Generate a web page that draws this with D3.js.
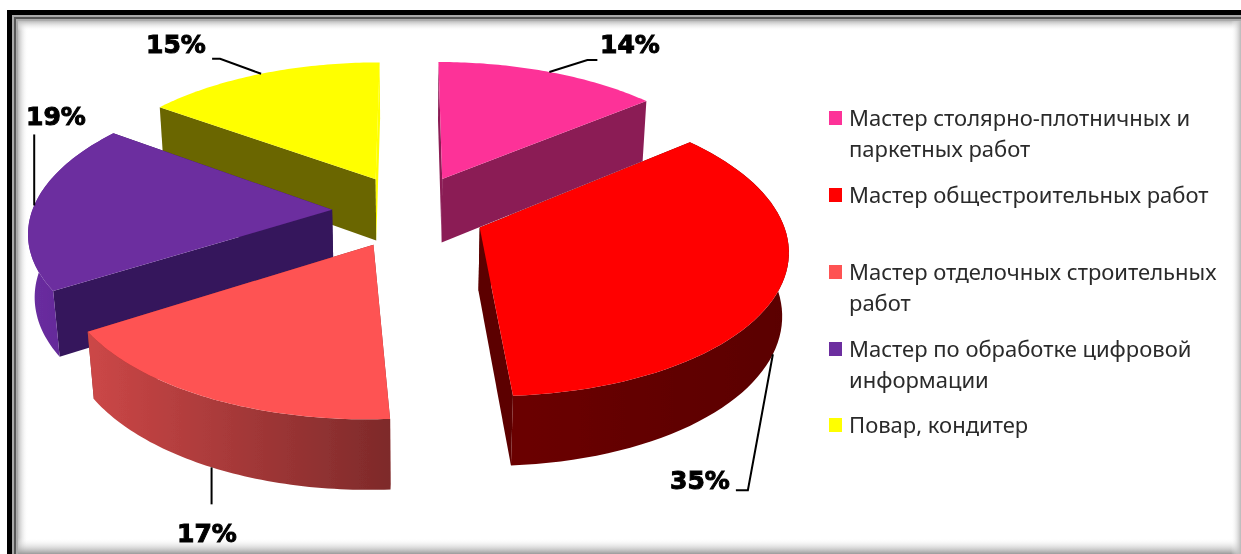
<!DOCTYPE html>
<html>
<head>
<meta charset="utf-8">
<script src="https://cdn.jsdelivr.net/npm/d3@7"></script>
<style>
  html, body { margin: 0; padding: 0; background: #fff; }
  svg { display: block; }
</style>
</head>
<body>
<svg id="chart" width="1241" height="554"></svg>
<script>
// data
const categories = [
    ["Мастер столярно-плотничных и", "паркетных работ"],
    ["Мастер общестроительных работ"],
    ["Мастер отделочных строительных", "работ"],
    ["Мастер по обработке цифровой", "информации"],
    ["Повар, кондитер"]
];
const shares = [14, 35, 17, 19, 15];

// colours, same order as the categories
const topColors = ["#fd3398", "#ff0000", "#fe5252", "#6c2d9f", "#ffff00"];
const wallColors = ["#8b1c55", "#5c0000", "#8a2e2e", "#35175c", "#6b6600"];
const wallEndColors = ["#8b1c55", "#5c0000", "#8a2e2e", "#35175c", "#ffff00"];
const rimLeft = ["#8b1c55", "#6b0000", "#cc4747", "#6a2da0", "#6b6600"];
const rimRight = ["#8b1c55", "#5a0000", "#7e2a2a", "#5b2890", "#6b6600"];

// camera for the tilted pie
const cx = 410, cy = 211, focal = 300, tilt = 28 * Math.PI / 180, dist = 6.5;
const thick = [0.25, 0.24, 0.24, 0.24, 0.24], explode = 0.26;
const nudge = [[0, 0], [-0.01, 0.012], [0, 0], [0, 0], [0, 0]];   // red sits a bit lower in the picture

function project(X, Y, Z) {
    const yv = Y * Math.sin(tilt) - Z * Math.cos(tilt);
    const d = Y * Math.cos(tilt) + Z * Math.sin(tilt);
    const w = dist / (dist - d);
    return [cx + focal * X * w, cy + focal * yv * w];
}

// angle is clockwise from the top, as in d3.pie
function rimPoint(a, off, z) {
    return project(Math.sin(a) + off[0], -Math.cos(a) + off[1], z);
}

const root = d3.select("#chart");
const line = d3.line();
const defs = root.append("defs");
defs.append("filter").attr("id", "soft").attr("x", 0).attr("y", 0).attr("width", 1).attr("height", 1)
    .attr("filterUnits", "objectBoundingBox")
    .append("feGaussianBlur").attr("stdDeviation", 0.5);
root.append("rect").attr("width", 1241).attr("height", 554).attr("fill", "#fff");
const svg = root.append("g").attr("filter", "url(#soft)");
svg.append("rect").attr("width", 1241).attr("height", 554).attr("fill", "#fff");

const slices = d3.pie().sort(null)(shares);
slices.forEach((s, i) => {
    const mid = (s.startAngle + s.endAngle) / 2;
    s.off = [explode * Math.sin(mid) + nudge[i][0], -explode * Math.cos(mid) + nudge[i][1]];
    s.mid = mid;
});

function rimArc(s, z) {
    return d3.range(0, 61).map(i => rimPoint(s.startAngle + (s.endAngle - s.startAngle) * i / 60, s.off, z));
}

// frame: stripes on the left and top, soft shadow on all sides
function fade(id, x1, y1, x2, y2, color) {
    const g = defs.append("linearGradient").attr("id", id).attr("gradientUnits", "userSpaceOnUse")
        .attr("x1", x1).attr("y1", y1).attr("x2", x2).attr("y2", y2);
    g.append("stop").attr("offset", 0).attr("stop-color", color);
    g.append("stop").attr("offset", 1).attr("stop-color", "#fff").attr("stop-opacity", 0);
}
fade("fadeL", 18, 0, 28, 0, "#bbb");
fade("fadeT", 0, 21, 0, 31, "#bbb");
fade("fadeB", 0, 554, 0, 538, "#9a9a9a");
fade("fadeR", 1241, 0, 1231, 0, "#b8b8b8");
const frame = svg.append("g");
frame.append("rect").attr("x", 18).attr("y", 21).attr("width", 10).attr("height", 533).attr("fill", "url(#fadeL)");
frame.append("rect").attr("x", 18).attr("y", 21).attr("width", 1223).attr("height", 10).attr("fill", "url(#fadeT)");
frame.append("rect").attr("x", 18).attr("y", 538).attr("width", 1223).attr("height", 16).attr("fill", "url(#fadeB)");
frame.append("rect").attr("x", 1231).attr("y", 21).attr("width", 10).attr("height", 533).attr("fill", "url(#fadeR)");
[[12, 15, 6, "#aaa"], [14, 17, 2, "#555"], [16, 19, 2, "#aaa"]].forEach(b => {
    frame.append("rect").attr("x", b[0]).attr("y", b[1]).attr("width", b[2]).attr("height", 554).attr("fill", b[3]);
    frame.append("rect").attr("x", b[0]).attr("y", b[1]).attr("width", 1241).attr("height", b[2]).attr("fill", b[3]);
});
frame.append("rect").attr("x", 7).attr("y", 10).attr("width", 5).attr("height", 544).attr("fill", "#000");
frame.append("rect").attr("x", 7).attr("y", 10).attr("width", 1234).attr("height", 5).attr("fill", "#000");

// back slices first so the nearer tops can cover their walls
const drawOrder = [4, 0, 3, 1, 2];
drawOrder.forEach(i => {
    const s = slices[i];
    const g = svg.append("g").attr("class", "slice");
    const tip = project(s.off[0], s.off[1], 0);
    const tipB = project(s.off[0], s.off[1], -thick[i]);
    const gradId = "rim" + i;
    const arcTop = rimArc(s, 0), arcBot = rimArc(s, -thick[i]);

    const grad = defs.append("linearGradient").attr("id", gradId)
        .attr("gradientUnits", "userSpaceOnUse")
        .attr("x1", d3.min(arcTop, p => p[0])).attr("x2", d3.max(arcTop, p => p[0]))
        .attr("y1", 0).attr("y2", 0);
    grad.append("stop").attr("offset", 0).attr("stop-color", rimLeft[i]);
    grad.append("stop").attr("offset", 1).attr("stop-color", rimRight[i]);

    // radial walls
    g.append("path").attr("fill", wallColors[i])
        .attr("d", line([tip, arcTop[0], arcBot[0], tipB]) + "Z");
    g.append("path").attr("fill", wallEndColors[i])
        .attr("d", line([tip, arcTop[60], arcBot[60], tipB]) + "Z");
    // rim, the back slices never show it
    if (Math.cos(s.mid) < 0.3) {
        g.append("path").attr("fill", `url(#${gradId})`)
            .attr("d", line(arcTop.concat(arcBot.slice().reverse())) + "Z");
    }
    // top
    g.append("path").attr("fill", topColors[i])
        .attr("d", line([tip].concat(arcTop)) + "Z");
});

// percent labels, leader starts on the slice rim at its mid angle
const labelFont = "'DejaVu Sans', sans-serif";
const leaders = [
    { z: 0, bend: [[38, -12], [48, -12]], lx: 630, ly: 53 },
    { z: -0.24, bend: [[-25, 136], [-37, 136]], lx: 700, ly: 489 },
    { z: -0.24, bend: [[0, 37]], lx: 207, ly: 542 },
    { z: 0, bend: [[0, -71]], lx: 56, ly: 125 },
    { z: 0, bend: [[-41, -15], [-49, -15]], lx: 176, ly: 53 }
];
slices.forEach((s, i) => {
    const p = rimPoint(s.mid, s.off, leaders[i].z);
    const pts = [p].concat(leaders[i].bend.map(b => [p[0] + b[0], p[1] + b[1]]));
    svg.append("path").attr("d", line(pts)).attr("fill", "none")
        .attr("stroke", "#000").attr("stroke-width", 2);
    svg.append("text").attr("x", leaders[i].lx).attr("y", leaders[i].ly)
        .attr("text-anchor", "middle")
        .style("font-family", labelFont).style("font-weight", "bold").style("font-size", "25px")
        .style("stroke", "#000").style("stroke-width", 1)
        .text(shares[i] + "%");
});

// legend
const rowY = [118, 195, 272, 349, 425];
const legend = svg.append("g").style("font-family", "'Noto Sans', sans-serif").style("font-size", "22px").attr("fill", "#2a2a2a");
categories.forEach((lines, i) => {
    legend.append("rect").attr("x", 829).attr("y", rowY[i] - 7).attr("width", 13).attr("height", 14)
        .attr("fill", topColors[i]);
    lines.forEach((t, j) => {
        legend.append("text").attr("x", 849).attr("y", rowY[i] + 8 + j * 31).text(t);
    });
});
</script>
</body>
</html>
